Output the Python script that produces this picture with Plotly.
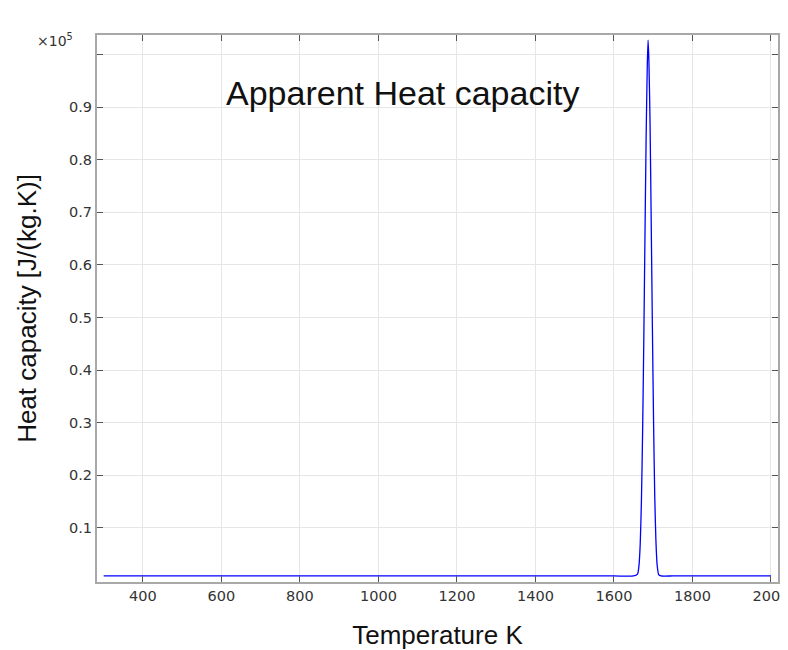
import plotly.graph_objects as go

# Apparent heat capacity curve (values in units of 1e5 J/(kg.K))
temperature = [300, 400, 600, 800, 1000, 1200, 1400, 1600, 1650, 1660, 1664, 1667,
               1670, 1673, 1676, 1679, 1682, 1685, 1687, 1689, 1692, 1695, 1698,
               1701, 1704, 1707, 1710, 1714, 1720, 1750, 1800, 1900, 2000]
heat_capacity = [0.0085, 0.0085, 0.0085, 0.0085, 0.0085, 0.0085, 0.0085, 0.0085, 0.0085,
                 0.012, 0.03, 0.07, 0.15, 0.28, 0.45, 0.65, 0.84, 0.98, 1.027, 0.99,
                 0.87, 0.68, 0.48, 0.30, 0.16, 0.075, 0.03, 0.011, 0.0085, 0.0085,
                 0.0085, 0.0085, 0.0085]

x_ticks = [400, 600, 800, 1000, 1200, 1400, 1600, 1800, 2000]
y_ticks = [0.1, 0.2, 0.3, 0.4, 0.5, 0.6, 0.7, 0.8, 0.9, 1.0]
y_tick_labels = ["0.1", "0.2", "0.3", "0.4", "0.5", "0.6", "0.7", "0.8", "0.9", ""]

fig = go.Figure()
fig.add_trace(go.Scatter(
    x=temperature, y=heat_capacity, mode="lines",
    line=dict(color="#0000ff", width=1.3, shape="spline", smoothing=0.6),
    showlegend=False,
))

axis_style = dict(
    showline=True, linecolor="#a8a8a8", linewidth=2, mirror="ticks",
    ticks="inside", ticklen=6, tickcolor="#555555", tickwidth=1,
    showgrid=True, gridcolor="#e6e6e6", gridwidth=1, zeroline=False,
    automargin=False, ticklabeloverflow="allow",
    tickfont=dict(family="DejaVu Sans", size=14.5, color="#333333"),
)

fig.update_xaxes(
    range=[283, 2018], tickvals=x_ticks,
    title=dict(text="Temperature K", font=dict(family="Liberation Sans", size=26, color="#111111"),
               standoff=23),
    **axis_style,
)
fig.update_yaxes(
    range=[-0.003, 1.037], tickvals=y_ticks, ticktext=y_tick_labels,
    title=dict(text="Heat capacity [J/(kg.K)]",
               font=dict(family="Liberation Sans", size=26, color="#111111"), standoff=25),
    **axis_style,
)

fig.add_annotation(
    text="Apparent Heat capacity", xref="paper", yref="paper", x=0.448, y=0.932,
    showarrow=False, font=dict(family="Liberation Sans", size=34, color="#111111"),
)
fig.add_annotation(
    text="×10<sup>5</sup>", xref="paper", yref="paper", x=-0.032, y=0.99,
    xanchor="right", yanchor="middle", showarrow=False,
    font=dict(family="DejaVu Sans", size=14, color="#333333"),
)

# page body adds an 8px offset, so the figure is sized to fill the rest of the window
fig.update_layout(
    width=780, height=642,
    margin=dict(l=89, r=10, t=27, b=68, autoexpand=False),
    paper_bgcolor="white", plot_bgcolor="white",
)

fig.write_html("out.html")
